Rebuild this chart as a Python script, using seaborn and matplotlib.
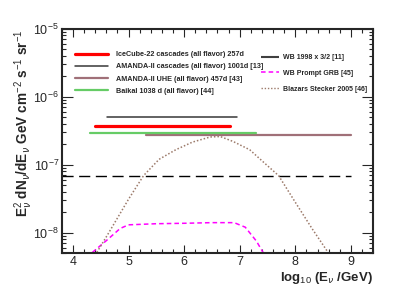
import numpy as np
import pandas as pd
import matplotlib
matplotlib.use("Agg")
import matplotlib.pyplot as plt
import seaborn as sns
from matplotlib.lines import Line2D
from matplotlib.ticker import MultipleLocator, LogLocator

sns.set_style("ticks")
plt.rcParams['font.family'] = ['Liberation Sans', 'DejaVu Sans']
plt.rcParams['mathtext.fontset'] = 'custom'
plt.rcParams['mathtext.rm'] = 'Liberation Sans'
plt.rcParams['mathtext.bf'] = 'Liberation Sans:bold'

# experimental limits (horizontal segments): label, x start, x end, flux
limit_labels = ["IceCube-22 cascades (all flavor) 257d",
                "AMANDA-II cascades (all flavor) 1001d [13]",
                "AMANDA-II UHE (all flavor) 457d [43]",
                "Baikal 1038 d (all flavor) [44]"]
limit_x0 = [4.39, 4.61, 5.31, 4.31]
limit_x1 = [6.82, 6.96, 9.00, 7.30]
limit_flux = [3.66e-7, 5.0e-7, 2.7e-7, 2.9e-7]

# Waxman-Bahcall bound x 3/2
wb_x = [3.8, 9.0]
wb_flux = [6.75e-8, 6.75e-8]

# WB prompt GRB model
grb_x = [4.35, 4.6, 4.85, 5.0, 5.5, 6.0, 6.5, 6.9, 7.1, 7.3, 7.42]
grb_flux = [5.1e-9, 7.6e-9, 1.15e-8, 1.3e-8, 1.35e-8, 1.37e-8, 1.4e-8, 1.4e-8, 1.2e-8, 7.5e-9, 5.1e-9]

# Blazars Stecker 2005
blz_x = [4.43, 4.64, 5.0, 5.27, 5.55, 5.85, 6.15, 6.47, 6.65, 6.88, 7.18, 7.45, 7.70, 8.0, 8.3, 8.59]
blz_flux = [5.1e-9, 9.8e-9, 3.1e-8, 6.9e-8, 1.2e-7, 1.66e-7, 2.15e-7, 2.56e-7, 2.6e-7, 2.2e-7, 1.66e-7, 1.05e-7, 6.9e-8, 2.8e-8, 1.15e-8, 5.1e-9]

fig = plt.figure(figsize=(4.15, 2.98), dpi=100)
ax = fig.add_axes([0.149, 0.151, 0.750, 0.752])

limit_styles = [dict(color='#ff0000', lw=2.3),
                dict(color='#383838', lw=1.1),
                dict(color='#a07078', lw=1.6),
                dict(color='#66cc66', lw=1.6)]
for lab, x0, x1, f, st in zip(limit_labels, limit_x0, limit_x1, limit_flux, limit_styles):
    seg = pd.DataFrame({'x': [x0, x1], 'y': [f, f]})
    sns.lineplot(data=seg, x='x', y='y', ax=ax, **st)

sns.lineplot(x=wb_x, y=wb_flux, ax=ax, color='black', lw=1.0,
             linestyle=(0, (8, 4)))
sns.lineplot(x=grb_x, y=grb_flux, ax=ax, color='#ff00ff', lw=1.1,
             linestyle=(0, (3, 2)))
sns.lineplot(x=blz_x, y=blz_flux, ax=ax, color='#9c7a6a', lw=1.1,
             linestyle=(0, (1, 1.3)))

ax.set_yscale('log')
ax.set_xlim(3.8, 9.4)
ax.set_ylim(5e-9, 1e-5)

ax.xaxis.set_major_locator(MultipleLocator(1))
ax.xaxis.set_minor_locator(MultipleLocator(0.2))
ax.yaxis.set_major_locator(LogLocator(base=10, numticks=10))
ax.yaxis.set_minor_locator(LogLocator(base=10, subs=np.arange(2, 10), numticks=10))
ax.tick_params(which='both', direction='in', top=True, right=True, labelsize=9, pad=2)
ax.tick_params(which='major', length=6, width=0.8)
ax.tick_params(which='minor', length=3, width=0.8)
ax.tick_params(axis='y', which='major', length=8)
for sp in ax.spines.values():
    sp.set_linewidth(1.5)

ax.set_xlabel("log$_{10}$ (E$_{\\nu}$ /GeV)", fontsize=9.5, fontweight='bold')
ax.xaxis.set_label_coords(1.0, -0.075)
ax.xaxis.label.set_horizontalalignment('right')
ax.set_ylabel("E$_{\\nu}^{2}$ dN$_{\\nu}$/dE$_{\\nu}$ GeV cm$^{-2}$ s$^{-1}$ sr$^{-1}$",
              fontsize=9.8, fontweight='bold')
ax.yaxis.set_label_coords(-0.085, 1.0)
ax.yaxis.label.set_horizontalalignment('right')

h1 = [Line2D([], [], **st) for st in limit_styles]
leg1 = ax.legend(h1, limit_labels, loc='upper left', bbox_to_anchor=(0.02, 0.93),
                 frameon=False, prop=dict(size=5.2, weight='bold'),
                 handlelength=4.6, handletextpad=1.1, labelspacing=0.72)
ax.add_artist(leg1)

h2 = [Line2D([], [], color='#404040', lw=1.5, linestyle=(0, (9, 3, 1, 3))),
      Line2D([], [], color='#ff00ff', lw=1.1, linestyle=(0, (3, 2))),
      Line2D([], [], color='#9c7a6a', lw=1.0, linestyle=(0, (1, 1.3)))]
ax.legend(h2, ["WB 1998 x 3/2 [11]", "WB Prompt GRB [45]", "Blazars Stecker 2005 [46]"],
          loc='upper left', bbox_to_anchor=(0.62, 0.915), frameon=False,
          prop=dict(size=5.0, weight='bold'),
          handlelength=2.6, handletextpad=0.6, labelspacing=1.25)

fig.savefig('out.png', dpi=100)
